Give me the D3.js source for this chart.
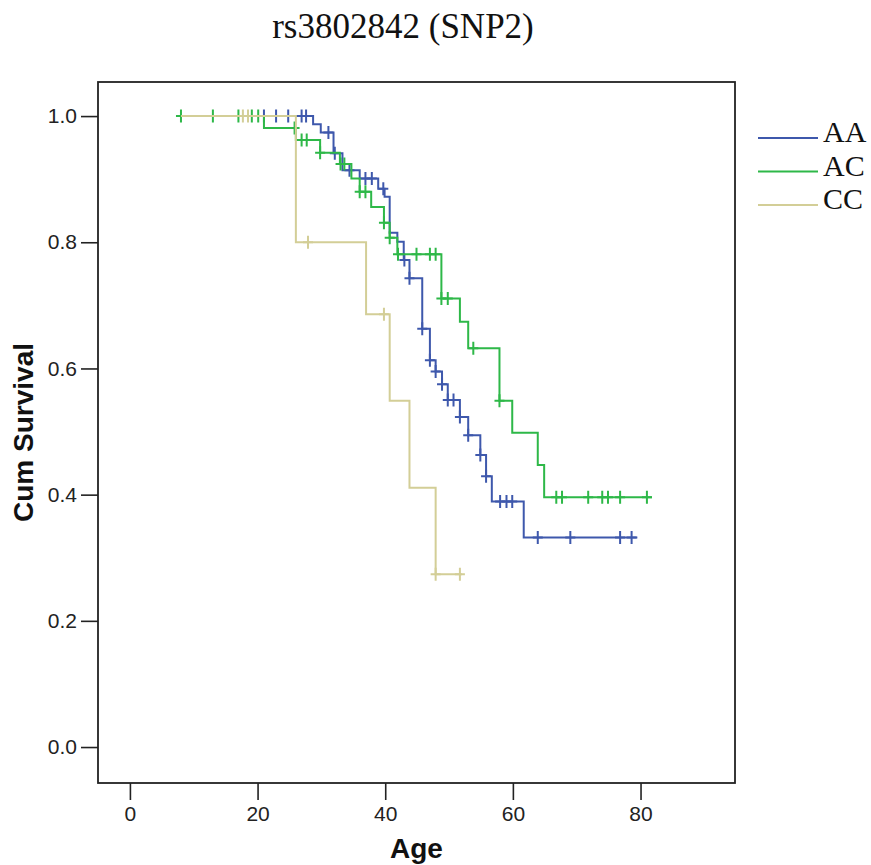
<!DOCTYPE html>
<html>
<head>
<meta charset="utf-8">
<script src="https://cdn.jsdelivr.net/npm/d3@7"></script>
<style>
  body { margin: 0; background: #fff; }
  svg { display: block; }
</style>
</head>
<body>
<div class="svg-container"></div>
<script>
// Kaplan-Meier data
const groups = ['AA', 'AC', 'CC'];
const colors = ['#3e58ac', '#2eb848', '#d3ce97'];

const aaStart = 21;
const aaEnd = 79.5;
const aaTimes = [28.7, 29.9, 31.9, 33.3, 36.0, 38.9, 39.9, 40.7, 41.9, 42.9, 43.8, 45.8, 47.0, 47.9, 48.9, 49.8, 51.7, 53.0, 54.9, 55.8, 56.7, 61.7];
const aaSurv = [0.987, 0.974, 0.941, 0.914, 0.901, 0.885, 0.872, 0.815, 0.801, 0.772, 0.743, 0.663, 0.613, 0.595, 0.575, 0.550, 0.523, 0.494, 0.463, 0.429, 0.389, 0.332];
const aaCensor = [21, 22.9, 24.8, 26.9, 27.6, 31.1, 32.1, 34.4, 36.9, 37.9, 39.7, 43.0, 43.8, 45.8, 47.0, 47.9, 48.9, 49.8, 50.7, 51.7, 53.0, 54.9, 55.8, 58.0, 59.0, 59.9, 63.9, 69.0, 76.8, 78.6];

const acStart = 8;
const acEnd = 81.8;
const acTimes = [21.0, 26.0, 29.8, 32.9, 34.7, 36.0, 37.8, 39.8, 40.7, 41.9, 48.8, 51.7, 53.0, 57.9, 59.9, 63.9, 64.9];
const acSurv = [0.981, 0.962, 0.942, 0.924, 0.901, 0.880, 0.856, 0.831, 0.807, 0.781, 0.711, 0.674, 0.632, 0.549, 0.498, 0.447, 0.396];
const acCensor = [8, 13, 17, 19.1, 20.1, 25.8, 26.9, 27.7, 29.8, 33.0, 33.6, 36.0, 36.9, 39.8, 40.7, 42.0, 44.9, 47.0, 47.9, 48.8, 49.8, 53.8, 57.9, 66.8, 67.7, 71.8, 74.0, 74.9, 76.8, 81.0];

const ccStart = 8;
const ccEnd = 52;
const ccTimes = [26.0, 37.0, 40.7, 43.8, 47.9];
const ccSurv = [0.800, 0.686, 0.549, 0.411, 0.274];
const ccCensor = [17.7, 18.5, 27.9, 39.8, 47.9, 51.7];

const xTicks = [0, 20, 40, 60, 80];
const yTicks = [0.0, 0.2, 0.4, 0.6, 0.8, 1.0];

const outerWidth = 871;
const outerHeight = 865;
const frame = { left: 98, top: 82, right: 735, bottom: 783 };

const svg = d3.select('.svg-container')
  .append('svg')
  .attr('width', outerWidth)
  .attr('height', outerHeight);

svg.append('rect')
  .attr('width', outerWidth)
  .attr('height', outerHeight)
  .attr('fill', '#fff');

const xScale = d3.scaleLinear()
  .domain([-5, 94.8])
  .range([frame.left, frame.right]);

const yScale = d3.scaleLinear()
  .domain([-0.057, 1.054])
  .range([frame.bottom, frame.top]);

// title
svg.append('text')
  .attr('x', 403)
  .attr('y', 38)
  .attr('text-anchor', 'middle')
  .style('font-family', '"Liberation Serif", "Times New Roman", serif')
  .style('font-size', '35px')
  .attr('fill', '#111')
  .text('rs3802842 (SNP2)');

// axes
const xAxis = d3.axisBottom(xScale)
  .tickValues(xTicks)
  .tickSize(17)
  .tickPadding(6)
  .tickSizeOuter(0)
  .tickFormat(d3.format('d'));

const yAxis = d3.axisLeft(yScale)
  .tickValues(yTicks)
  .tickSize(17)
  .tickPadding(4)
  .tickSizeOuter(0)
  .tickFormat(d3.format('.1f'));

const gx = svg.append('g')
  .attr('transform', `translate(0, ${frame.bottom})`)
  .call(xAxis);

const gy = svg.append('g')
  .attr('transform', `translate(${frame.left}, 0)`)
  .call(yAxis);

[gx, gy].forEach(g => {
  g.select('.domain').remove();
  g.selectAll('.tick line').attr('stroke', '#222').attr('stroke-width', 1.6);
  g.selectAll('.tick text')
    .style('font-family', '"Liberation Sans", Arial, sans-serif')
    .style('font-size', '21px')
    .attr('fill', '#222');
});

// frame
svg.append('rect')
  .attr('x', frame.left)
  .attr('y', frame.top)
  .attr('width', frame.right - frame.left)
  .attr('height', frame.bottom - frame.top)
  .attr('fill', 'none')
  .attr('stroke', '#222')
  .attr('stroke-width', 1.8);

// axis titles
svg.append('text')
  .attr('transform', `translate(33, ${(frame.top + frame.bottom) / 2}) rotate(-90)`)
  .attr('text-anchor', 'middle')
  .style('font-family', '"Liberation Sans", Arial, sans-serif')
  .style('font-weight', 'bold')
  .style('font-size', '28px')
  .attr('fill', '#111')
  .text('Cum Survival');

svg.append('text')
  .attr('x', (frame.left + frame.right) / 2)
  .attr('y', 858)
  .attr('text-anchor', 'middle')
  .style('font-family', '"Liberation Sans", Arial, sans-serif')
  .style('font-weight', 'bold')
  .style('font-size', '28px')
  .attr('fill', '#111')
  .text('Age');

// survival curves
const series = [
  { start: aaStart, end: aaEnd, times: aaTimes, surv: aaSurv, censor: aaCensor },
  { start: acStart, end: acEnd, times: acTimes, surv: acSurv, censor: acCensor },
  { start: ccStart, end: ccEnd, times: ccTimes, surv: ccSurv, censor: ccCensor }
];

const survAt = (s, t) => {
  let v = 1;
  s.times.forEach((tt, i) => { if (tt <= t) v = s.surv[i]; });
  return v;
};

const line = d3.line()
  .x(d => xScale(d[0]))
  .y(d => yScale(d[1]))
  .curve(d3.curveStepAfter);

series.forEach((s, i) => {
  const pts = [[s.start, 1]];
  s.times.forEach((t, j) => pts.push([t, s.surv[j]]));
  pts.push([s.end, s.surv[s.surv.length - 1]]);

  const g = svg.append('g').attr('class', 'curve-' + groups[i]);

  g.append('path')
    .attr('d', line(pts))
    .attr('fill', 'none')
    .attr('stroke', colors[i])
    .attr('stroke-width', 2);

  g.selectAll('path.censor')
    .data(s.censor)
    .enter()
    .append('path')
    .attr('class', 'censor')
    .attr('d', t => {
      const cx = xScale(t), cy = yScale(survAt(s, t));
      return `M${cx - 5},${cy}h10M${cx},${cy - 6.5}v13`;
    })
    .attr('stroke', colors[i])
    .attr('stroke-width', 2)
    .attr('fill', 'none');
});

// legend
const legend = svg.append('g')
  .attr('transform', 'translate(758, 138)');

groups.forEach((name, i) => {
  const item = legend.append('g')
    .attr('transform', `translate(0, ${i * 33.5})`);
  item.append('line')
    .attr('x1', 0)
    .attr('x2', 60)
    .attr('stroke', colors[i])
    .attr('stroke-width', 2);
  item.append('text')
    .attr('x', 65)
    .attr('y', 4)
    .style('font-family', '"Liberation Serif", "Times New Roman", serif')
    .style('font-size', '30px')
    .attr('fill', '#111')
    .text(name);
});
</script>
</body>
</html>
